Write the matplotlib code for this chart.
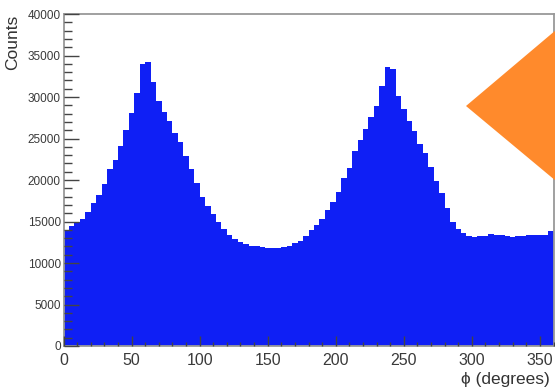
import numpy as np
import matplotlib
matplotlib.use("Agg")
import matplotlib.pyplot as plt
from matplotlib.patches import Polygon

plt.rcParams['font.family'] = ['Liberation Sans', 'DejaVu Sans']

# histogram of phi, 90 bins of 4 degrees, counts
bin_edges = np.arange(0, 364, 4)
counts_k = [14.0, 14.5, 15.0, 15.3, 16.1, 17.2, 18.2, 19.5, 21.3, 22.4,
            24.1, 26.0, 28.1, 30.5, 34.0, 34.2, 31.8, 29.5, 28.2, 27.1,
            25.7, 24.6, 22.9, 21.3, 19.6, 18.0, 16.9, 15.9, 14.9, 14.1,
            13.4, 12.9, 12.5, 12.3, 12.1, 12.0, 11.9, 11.8, 11.8, 11.8,
            11.9, 12.1, 12.4, 12.7, 13.3, 14.0, 14.6, 15.3, 16.4, 17.4,
            18.6, 20.3, 21.5, 23.5, 24.8, 26.1, 27.6, 28.9, 31.3, 33.6,
            33.4, 30.1, 28.5, 27.1, 25.9, 24.3, 23.3, 21.6, 19.9, 18.4,
            16.6, 15.0, 14.1, 13.6, 13.2, 13.1, 13.2, 13.3, 13.5, 13.4,
            13.4, 13.3, 13.1, 13.2, 13.3, 13.4, 13.4, 13.4, 13.4, 13.8]
counts = np.array(counts_k) * 1000

xticks = [0, 50, 100, 150, 200, 250, 300, 350]
yticks = [0, 5000, 10000, 15000, 20000, 25000, 30000, 35000, 40000]

fig = plt.figure(figsize=(5.55, 3.88), dpi=100)
ax = fig.add_axes([63.5/555, 42/388, 490/555, 332/388])

ax.stairs(counts, bin_edges, fill=True, color='#0f1ff5', lw=0)

ax.set_xlim(0, 360)
ax.set_ylim(0, 40000)
ax.set_xticks(xticks)
ax.set_xticks(np.arange(0, 361, 10), minor=True)
ax.set_yticks(yticks)
ax.set_yticks(np.arange(0, 40001, 1000), minor=True)
ax.set_yticklabels([str(v) for v in yticks])

ax.tick_params(axis='x', which='major', direction='in', length=7.2, width=1,
               color='#444444', labelsize=11.5, labelcolor='#3a3a3a', pad=5,
               top=False)
ax.tick_params(axis='x', which='minor', direction='in', length=3.2, width=1,
               color='#444444', top=False)
ax.tick_params(axis='y', which='major', direction='in', length=10.8, width=1,
               color='#444444', labelsize=8.5, labelcolor='#3a3a3a', pad=2,
               right=False)
ax.tick_params(axis='y', which='minor', direction='in', length=5.5, width=1,
               color='#444444', right=False)
ax.set_axisbelow(False)

for side in ['left', 'bottom', 'top', 'right']:
    ax.spines[side].set_color('#999999')
    ax.spines[side].set_linewidth(1.3)

fig.text(13/555, 1 - 15/388, 'Counts', rotation=90, ha='center', va='top',
         fontsize=12.5, color='#333333')
fig.text(550/555, 1/388, 'ϕ (degrees)', ha='right', va='bottom',
         fontsize=12.5, color='#333333')

# orange arrow head overlapping the right edge
tri = Polygon([[466/555, 1 - 106/388], [556/555, 1 - 30/388], [556/555, 1 - 181/388]],
              closed=True, transform=fig.transFigure, facecolor='#ff8a2c',
              edgecolor='none', zorder=10)
fig.patches.append(tri)

fig.savefig('out.png', dpi=100)
